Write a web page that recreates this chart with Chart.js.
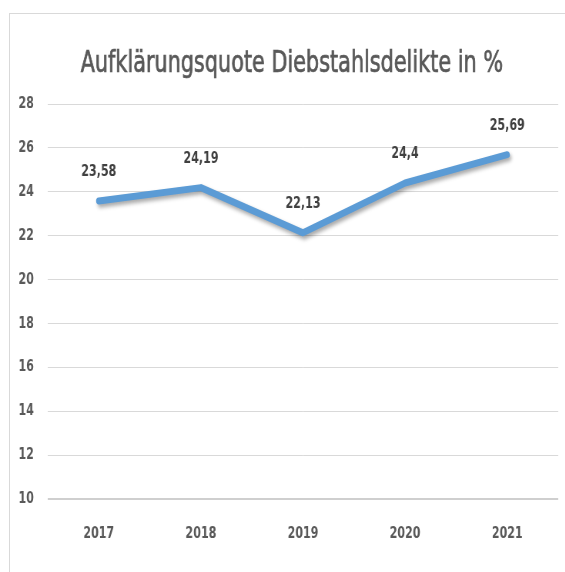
<!DOCTYPE html>
<html>
<head>
<meta charset="utf-8">
<script src="https://cdn.jsdelivr.net/npm/chart.js@4/dist/chart.umd.min.js"></script>
<style>
  html, body { margin: 0; padding: 0; background: #fff; overflow: hidden; }
  #wrap { position: relative; width: 565px; height: 572px; overflow: hidden; }
  #frame { position: absolute; left: 9px; top: 13px; right: -2px; bottom: -2px; border: 1px solid #d9d9d9; }
  /* the original picture is squeezed sideways, so draw wider and squeeze */
  #quoteChart { position: absolute; left: 0; top: 0; width: 734px; height: 572px;
                transform: scaleX(0.77); transform-origin: 0 0; }
</style>
</head>
<body>
<div id="wrap">
  <div id="frame"></div>
  <canvas id="quoteChart" width="734" height="572"></canvas>
</div>
<script>
const years = ['2017', '2018', '2019', '2020', '2021'];
const quote = [23.58, 24.19, 22.13, 24.4, 25.69];
const quoteLabels = ['23,58', '24,19', '22,13', '24,4', '25,69'];
const yTicks = [10, 12, 14, 16, 18, 20, 22, 24, 26, 28];
const titleText = 'Aufklärungsquote Diebstahlsdelikte in %';

const FONT = '"DejaVu Sans Condensed", "DejaVu Sans", sans-serif';

// shadow under the line, like the office chart
const lineShadow = {
    id: 'lineShadow',
    beforeDatasetDraw(chart) {
        const c = chart.ctx;
        c.save();
        c.shadowColor = 'rgba(0,0,0,0.35)';
        c.shadowBlur = 4;
        c.shadowOffsetX = 2;
        c.shadowOffsetY = 3;
    },
    afterDatasetDraw(chart) {
        chart.ctx.restore();
    }
};

// value labels above each point
const valueLabels = {
    id: 'valueLabels',
    afterDatasetsDraw(chart) {
        const c = chart.ctx;
        const meta = chart.getDatasetMeta(0);
        c.save();
        c.font = 'bold 16px ' + FONT;
        c.fillStyle = '#404040';
        c.textAlign = 'center';
        c.textBaseline = 'middle';
        meta.data.forEach(function (pt, i) {
            c.fillText(quoteLabels[i], pt.x, pt.y - 29);
        });
        c.restore();
    }
};

// title, placed a bit right of the middle like in the original
const bigTitle = {
    id: 'bigTitle',
    afterDraw(chart) {
        const c = chart.ctx;
        c.save();
        c.font = '30px ' + FONT;
        c.fillStyle = '#595959';
        c.strokeStyle = '#595959';
        c.lineWidth = 0.7;
        c.textAlign = 'center';
        c.textBaseline = 'alphabetic';
        c.fillText(titleText, 379, 72);
        c.strokeText(titleText, 379, 72);
        c.restore();
    }
};

document.addEventListener('DOMContentLoaded', function () {
    const ctx = document.getElementById('quoteChart').getContext('2d');
    new Chart(ctx,
    {
        type: 'line',
        data:
        {
            labels: years,
            datasets: [{
                label: 'Aufklärungsquote',
                data: quote,
                borderColor: '#5b9bd5',
                borderWidth: 7,
                borderCapStyle: 'round',
                borderJoinStyle: 'round',
                pointRadius: 0,
                tension: 0
            }]
        },
        options:
        {
            responsive: false,
            animation: false,
            layout: { padding: { left: 0, right: 9, top: 104, bottom: 0 } },
            plugins: {
                legend: { display: false },
                tooltip: { enabled: false },
                title: { display: false }
            },
            scales: {
                x: {
                    offset: true,
                    grid: { display: false, drawTicks: false },
                    border: { display: false },
                    ticks: {
                        color: '#595959',
                        font: { family: FONT, size: 16, weight: 'bold' },
                        padding: 25
                    },
                    afterFit(scale) { scale.height = 73; }
                },
                y: {
                    min: 10,
                    max: 28,
                    afterBuildTicks(scale) { scale.ticks = yTicks.map(v => ({ value: v })); },
                    grid: {
                        color: (c) => c.tick && c.tick.value === 10 ? '#cfcfcf' : '#d9d9d9',
                        lineWidth: (c) => c.tick && c.tick.value === 10 ? 2 : 1,
                        drawTicks: false
                    },
                    border: { display: false },
                    ticks: {
                        color: '#595959',
                        font: { family: FONT, size: 16, weight: 'bold' },
                        padding: 18
                    },
                    afterFit(scale) { scale.width = 62; }
                }
            }
        },
        plugins: [lineShadow, valueLabels, bigTitle]
    });
});
</script>
</body>
</html>
